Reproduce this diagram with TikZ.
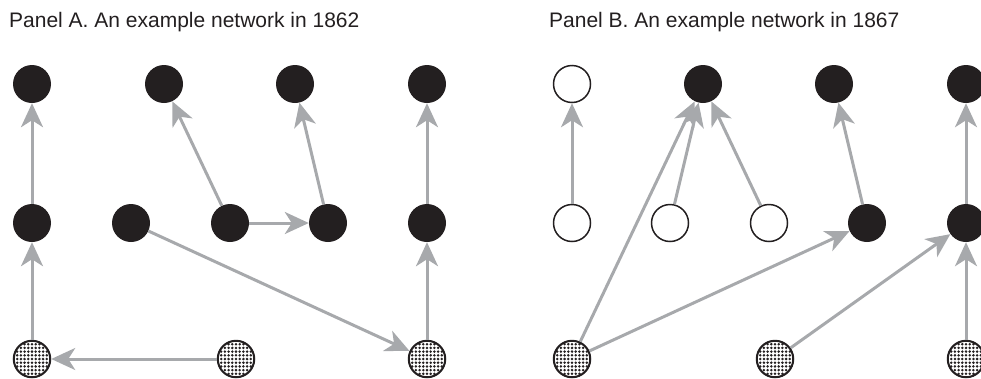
\documentclass[tikz,border=0pt]{standalone}
\usepackage{fontspec}
\setmainfont{Liberation Sans}
\usetikzlibrary{arrows.meta}
\definecolor{ninkblack}{HTML}{231F20}
\definecolor{nlinkgray}{HTML}{A7A9AC}
\tikzset{
  panel/.style={anchor=base west, inner sep=0pt, text=ninkblack,
    font=\fontsize{21}{25}\selectfont},
  firm/.style={circle, minimum size=38pt, inner sep=0pt},
  solidfirm/.style={firm, fill=ninkblack},
  openfirm/.style={firm, fill=white, draw=ninkblack, line width=1.5pt, minimum size=37pt},
  dotfirm/.style={firm, fill=white, draw=ninkblack, line width=1.5pt, minimum size=37pt},
  link/.style={draw=nlinkgray, line width=3pt,
    -{Stealth[length=24pt, width=22pt, inset=7pt]}}
}
% dot screen inside a dotted firm
\newcommand{\dotscreen}[1]{%
  \begin{scope}
    \clip (#1) circle (18pt);
    \foreach \dx in {-5,...,5}
      \foreach \dy in {-5,...,5}
        \fill[ninkblack, shift={(#1)}] (\dx*3.7,\dy*3.7) circle (1.4pt);
  \end{scope}
  \draw[ninkblack, line width=1.5pt] (#1) circle (18pt);}
\begin{document}
\begin{tikzpicture}[x=1pt, y=-1pt]
  \useasboundingbox (0,0) rectangle (981,378);
  % panel titles
  \node[panel] (titleA) at (9,27) {Panel A. An example network in 1862};
  \node[panel] (titleB) at (549,27) {Panel B. An example network in 1867};

  % Panel A
  \node[solidfirm] (at1) at (32,84) {};
  \node[solidfirm] (at2) at (164,84) {};
  \node[solidfirm] (at3) at (295,84) {};
  \node[solidfirm] (at4) at (427,84) {};
  \node[solidfirm] (am1) at (32,223) {};
  \node[solidfirm] (am2) at (131,223) {};
  \node[solidfirm] (am3) at (230,223) {};
  \node[solidfirm] (am4) at (328,223) {};
  \node[solidfirm] (am5) at (427,223) {};
  \node[dotfirm] (ab1) at (32,359) {};
  \node[dotfirm] (ab2) at (236,359) {};
  \node[dotfirm] (ab3) at (427,359) {};
  \dotscreen{ab1}\dotscreen{ab2}\dotscreen{ab3}
  \draw[link] (am1) -- (at1);
  \draw[link] (ab1) -- (am1);
  \draw[link] (ab2) -- (ab1);
  \draw[link] (am3) -- (at2);
  \draw[link] (am3) -- (am4);
  \draw[link] (am4) -- (at3);
  \draw[link] (am2) -- (ab3);
  \draw[link] (ab3) -- (am5);
  \draw[link] (am5) -- (at4);

  % Panel B
  \node[openfirm] (bt1) at (572,84) {};
  \node[solidfirm] (bt2) at (703,84) {};
  \node[solidfirm] (bt3) at (834,84) {};
  \node[solidfirm] (bt4) at (966,84) {};
  \node[openfirm] (bm1) at (572,223) {};
  \node[openfirm] (bm2) at (670,223) {};
  \node[openfirm] (bm3) at (769,223) {};
  \node[solidfirm] (bm4) at (867,223) {};
  \node[solidfirm] (bm5) at (966,223) {};
  \node[dotfirm] (bb1) at (572,359) {};
  \node[dotfirm] (bb2) at (775,359) {};
  \node[dotfirm] (bb3) at (966,359) {};
  \dotscreen{bb1}\dotscreen{bb2}\dotscreen{bb3}
  \draw[link] (bm1) -- (bt1);
  \draw[link] (bb1) -- (bt2);
  \draw[link] (bm2) -- (bt2);
  \draw[link] (bm3) -- (bt2);
  \draw[link] (bm4) -- (bt3);
  \draw[link] (bb1) -- (bm4);
  \draw[link] (bb2) -- (bm5);
  \draw[link] (bb3) -- (bm5);
  \draw[link] (bm5) -- (bt4);
\end{tikzpicture}
\end{document}
